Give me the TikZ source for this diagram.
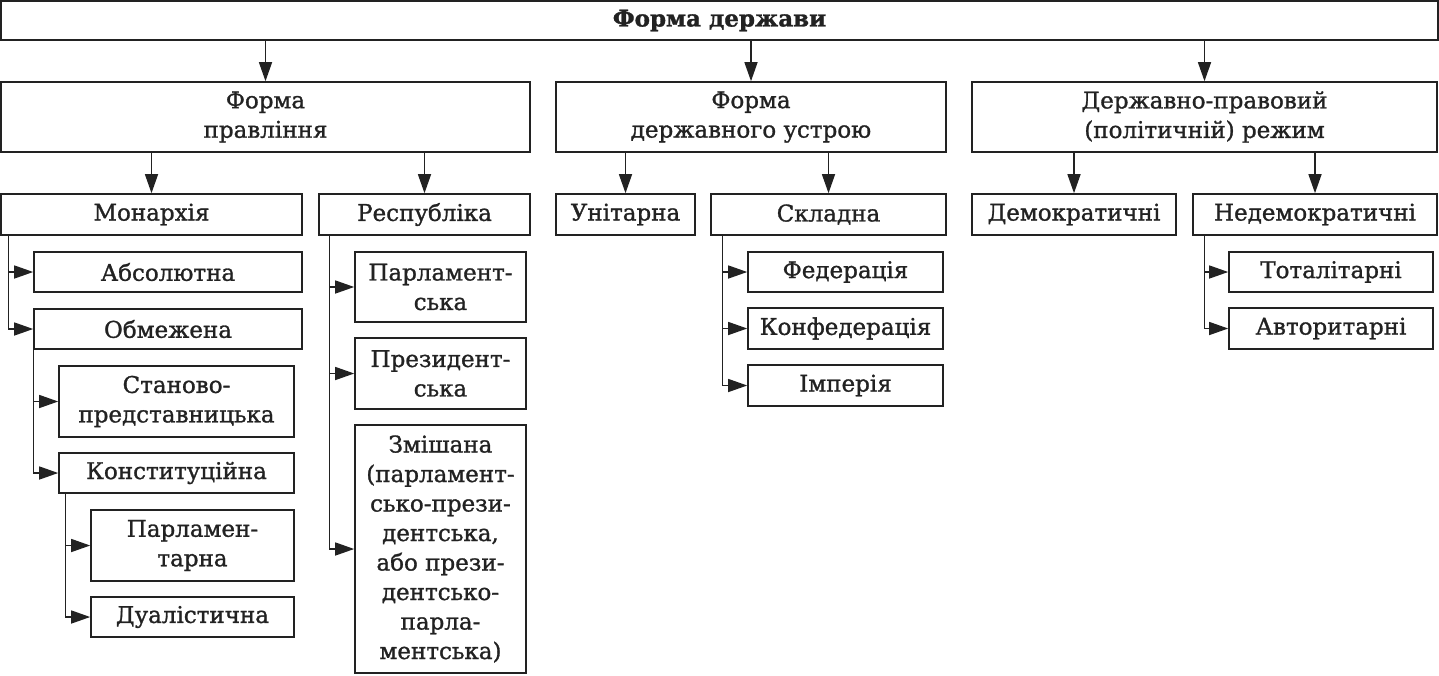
\documentclass[tikz,border=0pt]{standalone}
\usepackage{fontspec}
\setmainfont{DejaVu Serif}[RawFeature={embolden=1.2}]
\usetikzlibrary{arrows.meta}
\definecolor{ink}{HTML}{222222}
\tikzset{
  bx/.style={draw=ink, line width=1.6pt, inner sep=0pt, align=center, text=ink,
             font=\fontsize{23}{29.5}\selectfont},
  arr/.style={draw=ink, line width=1.4pt, -{Triangle[length=19pt,width=13pt]}}
}
\newcommand\mybox[6]{\node[bx,minimum width={#4pt-#2pt},minimum height={#5pt-#3pt}] (#1) at ({(#2+#4)/2},{(#3+#5)/2}) {#6};}
\begin{document}
\begin{tikzpicture}[x=1pt,y=-1pt]
\useasboundingbox (0,0) rectangle (1439,675);
\mybox{top}{1}{1}{1438}{40}{\bfseries Форма держави}
\mybox{fa}{1}{82}{530}{152}{Форма\\правління}
\mybox{fb}{556}{82}{946}{152}{Форма\\державного устрою}
\mybox{fc}{972}{82}{1437}{152}{Державно-правовий\\(політичній) режим}
\mybox{mon}{1}{194}{302}{235}{Монархія}
\mybox{rep}{319}{194}{530}{235}{Республіка}
\mybox{uni}{556}{194}{695}{235}{Унітарна}
\mybox{skl}{711}{194}{946}{235}{Складна}
\mybox{dem}{972}{194}{1176}{235}{Демократичні}
\mybox{ned}{1193}{194}{1437}{235}{Недемократичні}
\mybox{abs}{34}{252}{302}{292}{Абсолютна}
\mybox{obm}{34}{309}{302}{349}{Обмежена}
\mybox{stan}{59}{366}{294}{437}{Станово-\\представницька}
\mybox{kons}{59}{453}{294}{493}{Конституційна}
\mybox{parlt}{91}{510}{294}{581}{Парламен-\\тарна}
\mybox{dual}{91}{597}{294}{637}{Дуалістична}
\mybox{parl}{355}{252}{526}{322}{Парламент-\\ська}
\mybox{prez}{355}{338}{526}{409}{Президент-\\ська}
\mybox{zmi}{355}{425}{526}{673}{Змішана\\(парламент-\\сько-прези-\\дентська,\\або прези-\\дентсько-\\парла-\\ментська)}
\mybox{fed}{748}{252}{943}{292}{Федерація}
\mybox{konf}{748}{308}{943}{349}{Конфедерація}
\mybox{imp}{748}{365}{943}{406}{Імперія}
\mybox{tot}{1229}{252}{1433}{292}{Тоталітарні}
\mybox{avt}{1229}{308}{1433}{349}{Авторитарні}
% top level arrows
\foreach \c in {fa,fb,fc} \draw[arr] (top.south -| \c.north) -- (\c.north);
\draw[arr] (fa.south -| mon.north) -- (mon.north);
\draw[arr] (fa.south -| rep.north) -- (rep.north);
\draw[arr] (fb.south -| uni.north) -- (uni.north);
\draw[arr] (fb.south -| skl.north) -- (skl.north);
\draw[arr] (fc.south -| dem.north) -- (dem.north);
\draw[arr] (fc.south -| ned.north) -- (ned.north);
% trunks
\foreach \c in {abs,obm} \draw[arr] ([xshift=8pt]mon.south west) |- (\c.west);
\foreach \c in {stan,kons} \draw[arr] (obm.south west) |- (\c.west);
\foreach \c in {parlt,dual} \draw[arr] ([xshift=7pt]kons.south west) |- (\c.west);
\foreach \c in {parl,prez,zmi} \draw[arr] ([xshift=11pt]rep.south west) |- (\c.west);
\foreach \c in {fed,konf,imp} \draw[arr] ([xshift=12pt]skl.south west) |- (\c.west);
\foreach \c in {tot,avt} \draw[arr] ([xshift=12pt]ned.south west) |- (\c.west);
\end{tikzpicture}
\end{document}
